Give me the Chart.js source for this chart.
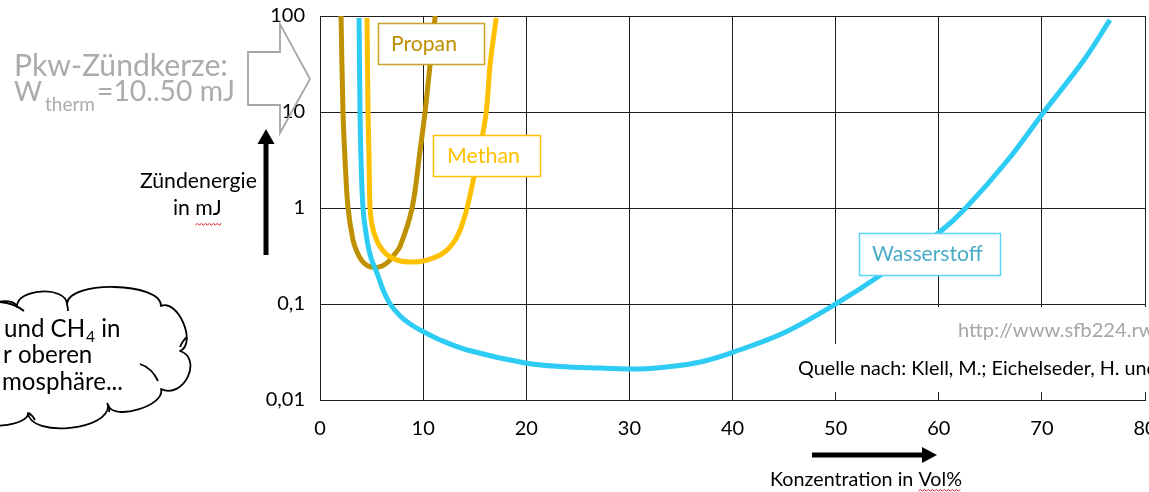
<!DOCTYPE html>
<html><head><meta charset="utf-8">
<script src="https://cdn.jsdelivr.net/npm/chart.js@4.4.1/dist/chart.umd.min.js"></script>
<style>html,body{margin:0;padding:0;background:#fff;overflow:hidden}
#wrap{position:relative;width:1149px;height:492px;overflow:hidden}
</style></head><body><div id="wrap"><canvas id="c" width="1149" height="492"></canvas></div>
<script>
// ---- data ----
const xTicks = [0, 10, 20, 30, 40, 50, 60, 70, 80];
const yTicks = [0.01, 0.1, 1, 10, 100];
const yTickLabels = ['0,01', '0,1', '1', '10', '100'];
const seriesNames = ['Wasserstoff', 'Methan', 'Propan'];

const h2X = [3.79, 3.88, 3.98, 4.17, 4.56, 4.95, 5.53, 6.12, 6.80, 7.77, 8.74, 9.90, 11.65, 14.27, 19.90, 23.30, 27.18, 31.07, 33.98, 36.89, 40.10, 44.95, 50.0, 54.66, 60.10, 62.62, 66.70, 70.19, 74.08, 76.60];
const h2Y = [95.3, 10, 3.16, 1, 0.464, 0.301, 0.210, 0.140, 0.1, 0.0750, 0.0619, 0.0523, 0.0422, 0.0332, 0.0243, 0.0223, 0.0215, 0.0210, 0.0223, 0.0249, 0.0316, 0.0499, 0.1, 0.210, 0.562, 1, 3.16, 10, 34.8, 90.9];

const ch4X = [4.56, 4.66, 4.76, 4.85, 5.05, 5.34, 5.73, 6.31, 6.99, 7.77, 8.74, 9.71, 10.68, 11.65, 12.43, 13.11, 13.59, 13.98, 14.27, 14.66, 14.95, 15.53, 16.12, 16.50, 17.09];
const ch4Y = [95.3, 10, 3.16, 1, 0.665, 0.511, 0.412, 0.340, 0.301, 0.2805, 0.274, 0.277, 0.294, 0.324, 0.374, 0.464, 0.590, 0.787, 1, 1.54, 2.15, 4.22, 10, 31.6, 95.3];

const c3h8X = [2.04, 2.23, 2.43, 2.72, 3.20, 3.59, 4.08, 4.66, 5.34, 6.02, 6.60, 7.18, 7.77, 8.93, 9.71, 10.19, 10.68, 11.17];
const c3h8Y = [100, 10, 3.16, 1, 0.464, 0.348, 0.2805, 0.249, 0.240, 0.249, 0.274, 0.324, 0.40, 1, 4.02, 10, 31.6, 100];

const pts = (xs, ys) => xs.map((x, i) => ({x: x, y: ys[i]}));

const FONT = 'Lato, "Open Sans", sans-serif';

function fit(ctx, text, width) {
  ctx.font = '100px ' + FONT;
  return 100 * width / ctx.measureText(text).width;
}

function bump(ctx, x0, y0, x1, y1, h) {
  const dx = x1 - x0, dy = y1 - y0, L = Math.hypot(dx, dy);
  const nx = dy / L, ny = -dx / L, k = h * 4 / 3;
  ctx.bezierCurveTo(x0 + nx * k, y0 + ny * k, x1 + nx * k, y1 + ny * k, x1, y1);
}

function wavy(ctx, x0, x1, y) {
  ctx.beginPath();
  ctx.strokeStyle = '#e02020'; ctx.lineWidth = 1;
  let up = true;
  ctx.moveTo(x0, y);
  for (let x = x0 + 2; x <= x1; x += 2) { ctx.lineTo(x, up ? y - 1.5 : y); up = !up; }
  ctx.stroke();
}

const annot = {
  id: 'annot',
  afterDraw(chart) {
    const ctx = chart.ctx;
    ctx.save();
    ctx.textBaseline = 'alphabetic';
    ctx.textAlign = 'left';

    function box(x0, y0, x1, y1, stroke, text, color, tx, tw, base) {
      ctx.fillStyle = '#fff';
      ctx.fillRect(x0, y0, x1 - x0, y1 - y0);
      ctx.strokeStyle = stroke; ctx.lineWidth = 1.5;
      ctx.strokeRect(x0 + 0.5, y0 + 0.5, x1 - x0, y1 - y0);
      const s = fit(ctx, text, tw);
      ctx.font = s + 'px ' + FONT;
      ctx.fillStyle = color;
      ctx.fillText(text, tx, base);
    }
    box(378, 23, 484, 64, '#C9A227', seriesNames[2], '#BF9000', 391, 66, 51);
    box(433, 135, 540, 176, '#FFC000', seriesNames[1], '#FFC000', 447, 73, 163);
    box(859, 233, 1000, 275, '#5CD4F4', seriesNames[0], '#4BACC6', 872, 111, 261);

    ctx.fillStyle = '#fff';
    ctx.fillRect(845, 307, 310, 37);
    ctx.fillRect(790, 344, 365, 48);
    let s = fit(ctx, 'http://www.sfb224.r', 181);
    ctx.font = s + 'px ' + FONT; ctx.fillStyle = '#A6A6A6';
    ctx.fillText('http://www.sfb224.rwth-aachen.de', 958, 337);
    s = fit(ctx, 'Quelle nach: Klell, M.; Eichelseder, H. un', 349);
    ctx.font = s + 'px ' + FONT; ctx.fillStyle = '#000';
    ctx.fillText('Quelle nach: Klell, M.; Eichelseder, H. und', 798, 375);

    // grey text
    s = fit(ctx, 'Pkw-Zündkerze:', 214);
    ctx.font = s + 'px ' + FONT; ctx.fillStyle = '#ABABAB';
    ctx.fillText('Pkw-Zündkerze:', 14, 76);
    s = fit(ctx, 'W', 28);
    ctx.font = s + 'px ' + FONT;
    ctx.fillText('W', 14, 101);
    s = fit(ctx, '=10..50 mJ', 138);
    ctx.font = s + 'px ' + FONT;
    ctx.fillText('=10..50 mJ', 97, 101);
    s = fit(ctx, 'therm', 50);
    ctx.font = s + 'px ' + FONT;
    ctx.fillText('therm', 45, 111);

    // grey block arrow
    ctx.beginPath();
    ctx.moveTo(248, 52); ctx.lineTo(280, 52); ctx.lineTo(280, 24); ctx.lineTo(310, 79);
    ctx.lineTo(280, 133); ctx.lineTo(280, 105); ctx.lineTo(248, 105); ctx.closePath();
    ctx.strokeStyle = '#A6A6A6'; ctx.lineWidth = 1.8; ctx.stroke();

    // vertical black arrow
    ctx.fillStyle = '#000';
    ctx.fillRect(263.5, 142, 5, 113);
    ctx.beginPath(); ctx.moveTo(257.5, 144); ctx.lineTo(274.5, 144); ctx.lineTo(266, 129); ctx.closePath(); ctx.fill();

    s = fit(ctx, 'Zündenergie', 117);
    ctx.font = s + 'px ' + FONT; ctx.fillStyle = '#000';
    ctx.fillText('Zündenergie', 140, 188);
    ctx.fillText('in mJ', 173, 215);
    const wIn = ctx.measureText('in ').width;
    const wMJ = ctx.measureText('mJ').width;
    wavy(ctx, 173 + wIn, 173 + wIn + wMJ, 225);

    // horizontal arrow
    ctx.fillStyle = '#000';
    ctx.fillRect(812, 452.5, 112, 5);
    ctx.beginPath(); ctx.moveTo(922, 447); ctx.lineTo(922, 463); ctx.lineTo(937, 455); ctx.closePath(); ctx.fill();
    s = fit(ctx, 'Konzentration in Vol%', 192);
    ctx.font = s + 'px ' + FONT; ctx.fillStyle = '#000';
    ctx.fillText('Konzentration in Vol%', 770, 486);
    const wK = ctx.measureText('Konzentration in ').width;
    const wV = ctx.measureText('Vol%').width;
    wavy(ctx, 770 + wK, 770 + wK + wV, 491);

    // cloud
    ctx.strokeStyle = '#000'; ctx.lineWidth = 1.8; ctx.lineJoin = 'round';
    ctx.beginPath();
    ctx.moveTo(-25, 318);
    bump(ctx, -25, 318, 17, 307, 10);
    bump(ctx, 17, 307, 67, 304, 14);
    bump(ctx, 67, 304, 161, 306, 18);
    bump(ctx, 161, 306, 180, 351, 14);
    bump(ctx, 180, 348, 161, 389, 19);
    bump(ctx, 161, 389, 108, 405, 13);
    bump(ctx, 108, 405, 28, 413, 19);
    bump(ctx, 28, 413, -25, 418, 10);
    ctx.stroke();
    ctx.beginPath();
    ctx.moveTo(0, 302); ctx.quadraticCurveTo(14, 303, 24, 311);
    ctx.moveTo(67, 304); ctx.quadraticCurveTo(68, 308, 68, 311);
    ctx.moveTo(180, 347); ctx.quadraticCurveTo(183, 340, 187, 337);
    ctx.moveTo(140, 364); ctx.quadraticCurveTo(152, 368, 158, 381);
    ctx.moveTo(107, 403); ctx.quadraticCurveTo(110, 408, 109, 412);
    ctx.moveTo(29, 413); ctx.quadraticCurveTo(33, 416, 35, 420);
    ctx.stroke();

    s = fit(ctx, 'mosphäre...', 121);
    ctx.font = s + 'px ' + FONT; ctx.fillStyle = '#000';
    let x = 4;
    ctx.fillText('und CH', x, 337); x += ctx.measureText('und CH').width;
    ctx.font = (s * 0.65) + 'px ' + FONT;
    ctx.fillText('4', x + 1, 342); x += ctx.measureText('4').width + 1;
    ctx.font = s + 'px ' + FONT;
    ctx.fillText(' in', x, 337);
    ctx.fillText('r oberen', 3, 363);
    ctx.fillText('mosphäre...', 2, 390);

    ctx.restore();
  }
};

new Chart(document.getElementById('c'), {
  type: 'line',
  data: {
    datasets: [
      {label: seriesNames[0], data: pts(h2X, h2Y), borderColor: '#2ECBF5', borderWidth: 5},
      {label: seriesNames[1], data: pts(ch4X, ch4Y), borderColor: '#FFC000', borderWidth: 5},
      {label: seriesNames[2], data: pts(c3h8X, c3h8Y), borderColor: '#BF9000', borderWidth: 5}
    ]
  },
  options: {
    responsive: false,
    animation: false,
    devicePixelRatio: 1,
    layout: {padding: {top: 16, right: 4, bottom: 0, left: 0}},
    elements: {
      point: {radius: 0, hoverRadius: 0},
      line: {tension: 0.35, fill: false, borderCapStyle: 'butt', borderJoinStyle: 'round'}
    },
    plugins: {legend: {display: false}, tooltip: {enabled: false}},
    scales: {
      x: {
        type: 'linear', min: 0, max: 80,
        afterBuildTicks: (s) => { s.ticks = xTicks.map(v => ({value: v})); },
        afterFit: (s) => { s.height = 92; s.paddingLeft = 0; s.paddingRight = 0; },
        ticks: {color: '#000', font: {family: FONT, size: 20}, padding: 17, maxRotation: 0, autoSkip: false},
        grid: {color: '#1e1e1e', lineWidth: 1, drawTicks: false},
        border: {display: true, color: '#1e1e1e', width: 1}
      },
      y: {
        type: 'logarithmic', min: 0.01, max: 100,
        afterBuildTicks: (s) => { s.ticks = yTicks.map(v => ({value: v})); },
        afterFit: (s) => { s.width = 320; s.paddingTop = 0; s.paddingBottom = 0; },
        ticks: {color: '#000', font: {family: FONT, size: 20}, padding: 15,
          callback: (v, i) => yTickLabels[i]},
        grid: {color: '#1e1e1e', lineWidth: 1, drawTicks: false},
        border: {display: true, color: '#1e1e1e', width: 1}
      }
    }
  },
  plugins: [annot]
});
</script></body></html>
